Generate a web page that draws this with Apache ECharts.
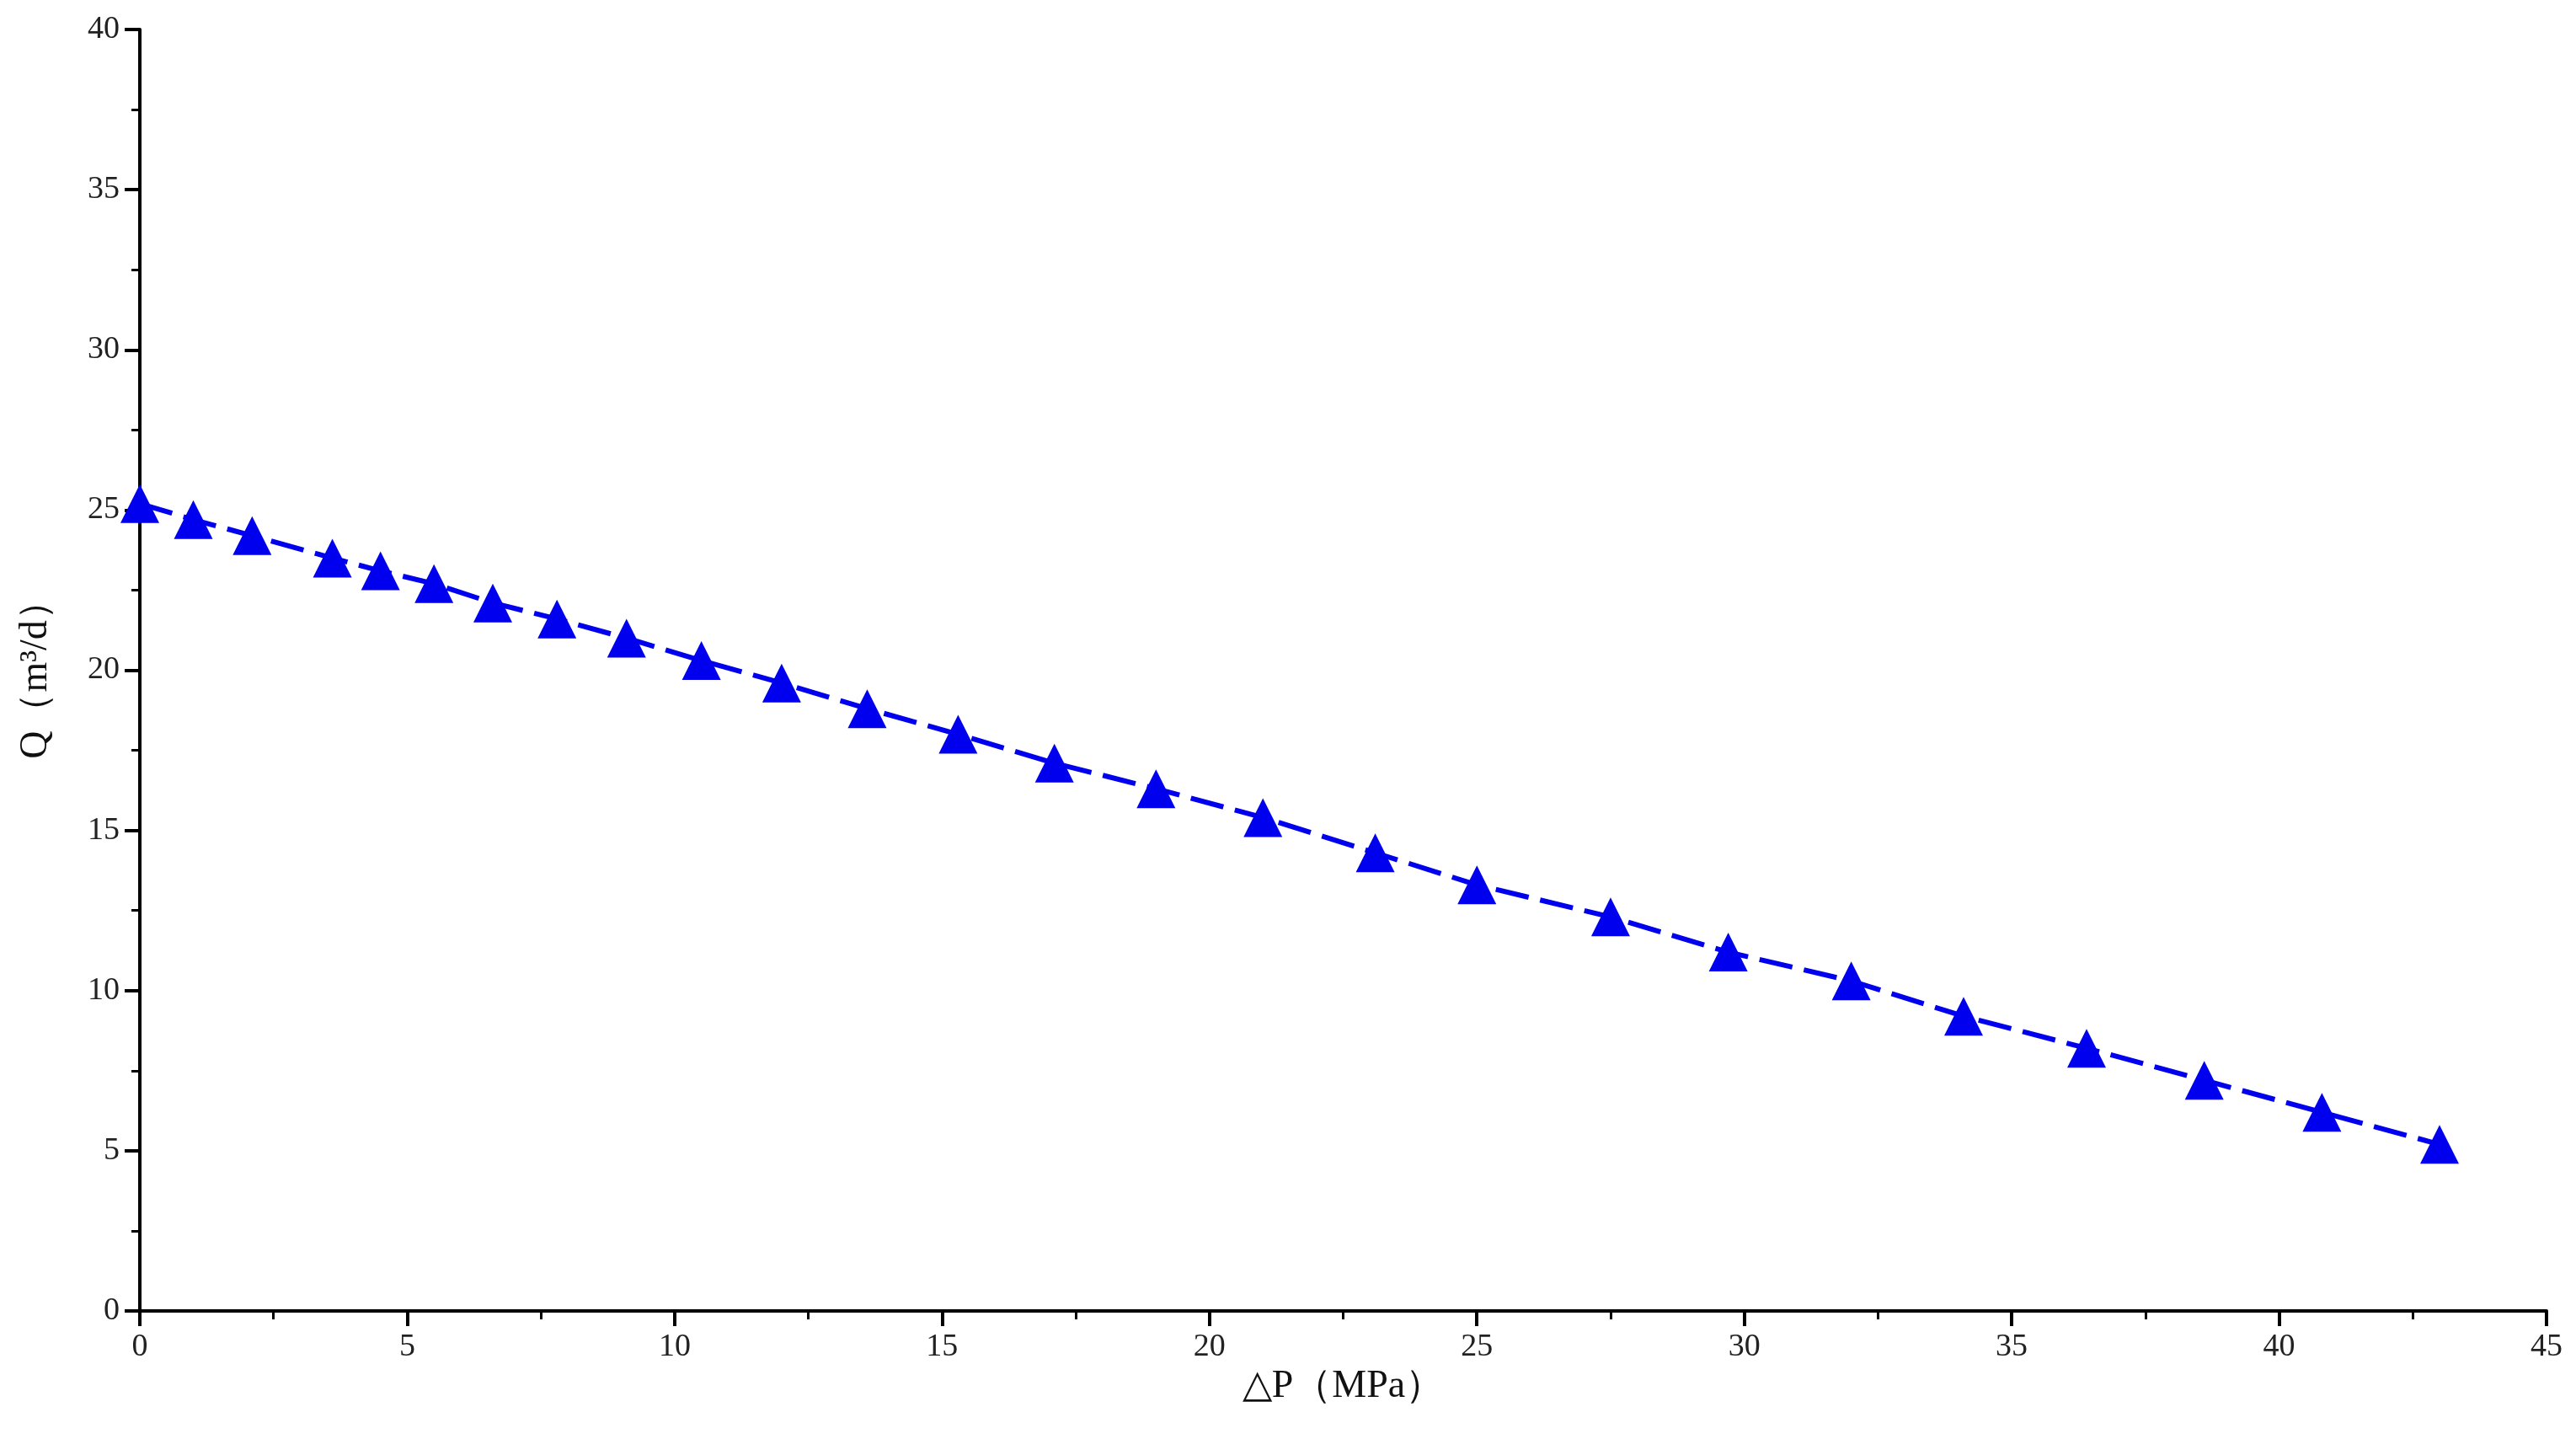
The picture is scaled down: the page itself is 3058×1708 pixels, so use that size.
<!DOCTYPE html>
<html><head><meta charset="utf-8">
<script src="https://cdn.jsdelivr.net/npm/echarts@6/dist/echarts.min.js"></script>
<style>html,body{margin:0;padding:0;background:#fff}#c{width:3058px;height:1708px}</style>
</head><body><div id="c"></div>
<script>
const dP = [0,1.0,2.1,3.6,4.5,5.5,6.6,7.8,9.1,10.5,12.0,13.6,15.3,17.1,19.0,21.0,23.1,25.0,27.5,29.7,32.0,34.1,36.4,38.6,40.8,43.0];
const Q  = [25.2,24.7,24.2,23.5,23.1,22.7,22.1,21.6,21.0,20.3,19.6,18.8,18.0,17.1,16.3,15.4,14.3,13.3,12.3,11.2,10.3,9.2,8.2,7.2,6.2,5.2];
const xName = '△P（MPa）';
const yName = 'Q（m³/d）';
const font = 'Liberation Serif';
const chart = echarts.init(document.getElementById('c'));
const axisCommon = {
  axisLine:{show:true,lineStyle:{color:'#000',width:4}},
  axisTick:{show:true,inside:false,length:18,lineStyle:{color:'#000',width:4}},
  minorTick:{show:true,splitNumber:2,length:10,lineStyle:{color:'#000',width:3}},
  splitLine:{show:false},
  axisLabel:{color:'#222',fontFamily:font,fontSize:38,margin:24},
  nameTextStyle:{color:'#111',fontFamily:font,fontSize:46}
};
chart.setOption({
  animation:false,
  grid:{left:166,right:35,top:35,bottom:152,containLabel:false},
  xAxis:Object.assign({type:'value',min:0,max:45,interval:5,name:xName,nameLocation:'middle',nameGap:56},axisCommon),
  yAxis:Object.assign({type:'value',min:0,max:40,interval:5,name:yName,nameLocation:'middle',nameGap:100},axisCommon),
  series:[{
    type:'line',data:dP.map((x,i)=>[x,Q[i]]),
    symbol:'triangle',symbolSize:46,
    itemStyle:{color:'#0000ee'},
    lineStyle:{color:'#0000ee',width:6,type:[40,14]}
  }]
});
</script></body></html>
